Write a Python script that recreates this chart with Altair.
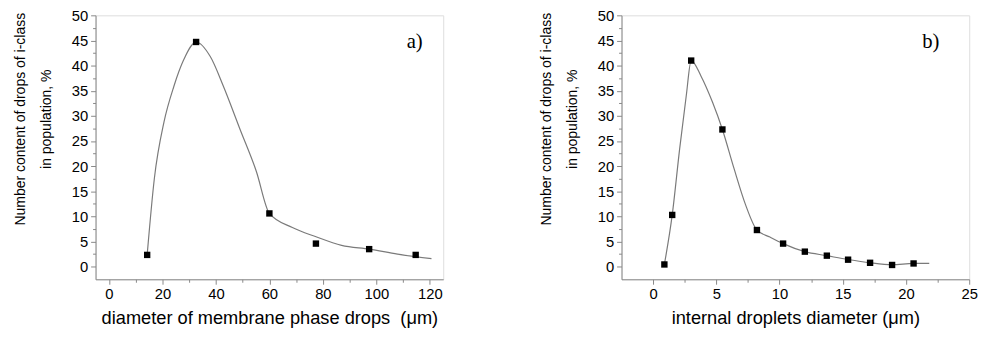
import altair as alt
import pandas as pd

# ---- panel a) data (read from picture) ----
a_pts_x = [14.3, 32.6, 60.0, 77.4, 97.3, 114.7]
a_pts_y = [2.35, 44.7, 10.6, 4.6, 3.5, 2.35]
a_fit_x = [14.3, 17.0, 20.6, 24.3, 28.0, 32.6, 37.9, 42.8, 48.9, 55.1, 60.0,
           68.6, 77.2, 87.0, 97.5, 107.9, 120.6]
a_fit_y = [2.35, 17.6, 28.8, 35.9, 41.2, 44.7, 41.8, 35.9, 27.5, 19.0, 10.6,
           7.8, 6.0, 4.25, 3.5, 2.5, 1.6]
a_xticks = [0, 10, 20, 30, 40, 50, 60, 70, 80, 90, 100, 110, 120]

# ---- panel b) data (read from picture) ----
b_pts_x = [0.89, 1.51, 3.01, 5.48, 8.21, 10.28, 12.0, 13.74, 15.42, 17.16, 18.9, 20.6]
b_pts_y = [0.45, 10.3, 41.0, 27.3, 7.3, 4.6, 3.0, 2.2, 1.4, 0.78, 0.35, 0.65]
b_fit_x = [0.89, 1.51, 2.10, 2.62, 3.01, 3.79, 4.70, 5.48, 6.39, 7.30, 8.21,
           9.24, 10.28, 12.0, 13.74, 15.42, 17.16, 18.9, 20.6, 21.84]
b_fit_y = [0.45, 10.3, 23.5, 34.0, 41.0, 37.9, 32.7, 27.3, 19.6, 12.4, 7.3,
           5.9, 4.6, 3.0, 2.2, 1.43, 0.78, 0.4, 0.65, 0.65]
b_xticks = [0, 2.5, 5, 7.5, 10, 12.5, 15, 17.5, 20, 22.5, 25]

y_ticks = [0, 2.5, 5, 7.5, 10, 12.5, 15, 17.5, 20, 22.5, 25, 27.5, 30, 32.5,
           35, 37.5, 40, 42.5, 45, 47.5, 50]
y_title = ["Number content of drops of i-class", "in population, %"]

FONT = "Liberation Sans"


def panel(px, py, fx, fy, xdom, xvals, xmajor, xtitle, label, label_x):
    pts = pd.DataFrame({"x": px, "y": py})
    fit = pd.DataFrame({"x": fx, "y": fy})
    xs = alt.Scale(domain=xdom, nice=False, zero=False)
    ys = alt.Scale(domain=[-2.5, 50], nice=False, zero=False)
    xtest = f"datum.value % {xmajor} === 0"
    xaxis = alt.Axis(
        values=xvals, labelOverlap=False, labelFlush=False,
        labelExpr=f"{xtest} ? format(datum.value, 'd') : ''",
        labelFontSize={"condition": {"test": xtest, "value": 15}, "value": 1},
        tickSize={"condition": {"test": xtest, "value": 5}, "value": 3},
        title=xtitle, grid=False, labelPadding=3, titlePadding=7,
        titleFontSize=18.5, titleFontWeight="normal",
        labelFont=FONT, titleFont=FONT,
    )
    ytest = "datum.value % 5 === 0"
    yaxis = alt.Axis(
        values=y_ticks, labelOverlap=False, labelFlush=False,
        labelExpr=f"{ytest} ? format(datum.value, 'd') : ''",
        labelFontSize={"condition": {"test": ytest, "value": 15}, "value": 1},
        tickSize={"condition": {"test": ytest, "value": 5}, "value": 3},
        title=y_title, grid=False, labelPadding=3, titlePadding=18,
        titleFontSize=14.2, titleLineHeight=26, titleY=105,
        titleFontWeight="normal", labelFont=FONT, titleFont=FONT,
    )
    x_enc = alt.X("x:Q", scale=xs, axis=xaxis)
    y_enc = alt.Y("y:Q", scale=ys, axis=yaxis)
    line = alt.Chart(fit).mark_line(
        color="#7a7a7a", strokeWidth=1.2, interpolate="monotone"
    ).encode(x=x_enc, y=y_enc)
    points = alt.Chart(pts).mark_square(size=42, color="black", opacity=1).encode(
        x=x_enc, y=y_enc
    )
    text = alt.Chart(pd.DataFrame({"t": [label]})).mark_text(
        font="Liberation Serif", fontSize=21, color="black", align="center",
        baseline="alphabetic",
    ).encode(text="t:N", x=alt.value(label_x), y=alt.value(33))
    return alt.layer(line, points, text).properties(width=353, height=268)


pa = panel(a_pts_x, a_pts_y, a_fit_x, a_fit_y, [-5, 125], a_xticks, 20,
           "diameter of membrane phase drops\u00a0 (\u03bcm)", "a)", 324)
pb = panel(b_pts_x, b_pts_y, b_fit_x, b_fit_y, [-2.5, 25], b_xticks, 5,
           "internal droplets diameter (\u03bcm)", "b)", 314)

chart = alt.hconcat(pa, pb, spacing=96).properties(
    padding={"left": 13, "top": 5, "right": 5, "bottom": 5}
).configure_view(
    stroke="#8a8a8a", strokeWidth=1
).configure_axis(
    domainColor="black", tickColor="black", labelColor="black", titleColor="black",
    domainWidth=1, tickWidth=1,
).configure(background="white")

chart.save("out.html", embed_options={"renderer": "svg", "actions": False})
